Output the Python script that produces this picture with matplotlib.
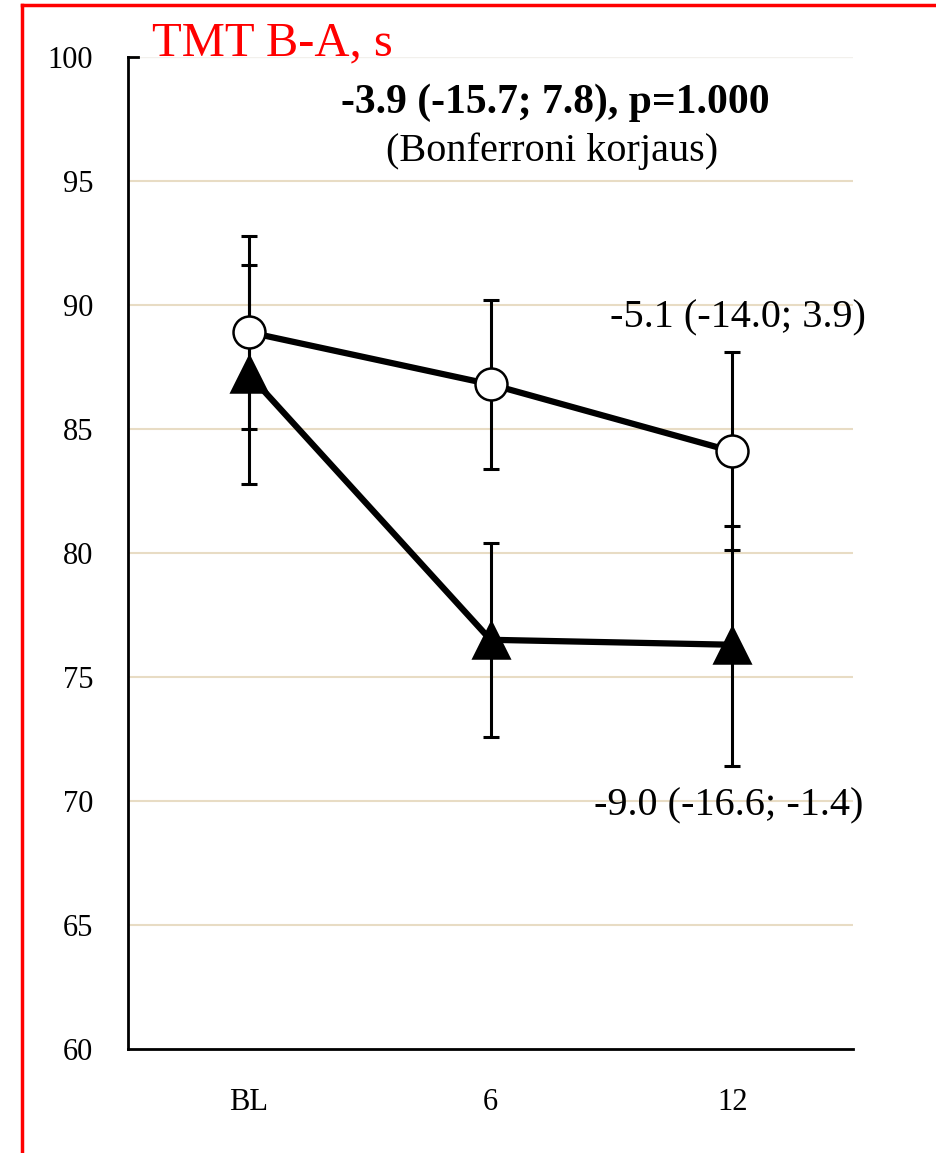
import matplotlib
matplotlib.use("Agg")
import matplotlib.pyplot as plt
from matplotlib.lines import Line2D

# TMT B-A means with 95% CI at baseline, 6 and 12 months
timepoints = ["BL", "6", "12"]
control_mean = [88.9, 86.8, 84.1]
control_low = [85.0, 83.4, 80.1]
control_high = [92.8, 90.2, 88.1]
interv_mean = [87.2, 76.5, 76.3]
interv_low = [82.8, 72.6, 71.4]
interv_high = [91.6, 80.4, 81.1]

yticks = [60, 65, 70, 75, 80, 85, 90, 95, 100]

plt.rcParams["font.family"] = ["Liberation Serif", "DejaVu Serif"]

fig = plt.figure(figsize=(9.36, 11.53), dpi=100)
ax = fig.add_axes([0.1368, 0.0902, 0.7745, 0.8604])

x = [i + 0.5 for i in range(len(timepoints))]


def draw_series(mean, low, high, marker, face, msize):
    err = [[m - lo for m, lo in zip(mean, low)], [hi - m for m, hi in zip(mean, high)]]
    ax.errorbar(x, mean, yerr=err, fmt="none", ecolor="black", elinewidth=2.2,
                capsize=6, capthick=2.2, zorder=3)
    ax.plot(x, mean, color="black", lw=4.5, zorder=4)
    ax.plot(x, mean, linestyle="none", marker=marker, markersize=msize,
            markerfacecolor=face, markeredgecolor="black", markeredgewidth=1.8, zorder=5)


draw_series(interv_mean, interv_low, interv_high, "^", "black", 26)
draw_series(control_mean, control_low, control_high, "o", "white", 23)

ax.set_xlim(0, 3)
ax.set_ylim(60, 100)
ax.set_xticks(x)
ax.set_xticklabels(timepoints)
ax.set_yticks(yticks)
ax.tick_params(axis="both", length=0, labelsize=22)
ax.tick_params(axis="x", pad=28)
ax.tick_params(axis="y", pad=25)

for y in yticks[1:-1]:
    ax.axhline(y, color="#E8DCC4", lw=1.5, zorder=1)
ax.axhline(100, color="#F2F0EC", lw=1.0, zorder=1)

for side in ["top", "right"]:
    ax.spines[side].set_visible(False)
for side in ["left", "bottom"]:
    ax.spines[side].set_linewidth(2.0)

# short tick at the top of the y axis
ax.add_line(Line2D([0, 0.04], [100, 100], color="black", lw=2.0, clip_on=False))

# annotations
fig.text(0.162, 0.962, "TMT B-A, s", color="red", fontsize=35, ha="left", va="center")
fig.text(0.593, 0.911, "-3.9 (-15.7; 7.8), p=1.000", fontsize=30, fontweight="bold",
         ha="center", va="center")
fig.text(0.590, 0.869, "(Bonferroni korjaus)", fontsize=29, ha="center", va="center")
fig.text(0.925, 0.724, "-5.1 (-14.0; 3.9)", fontsize=29, ha="right", va="center")
fig.text(0.922, 0.301, "-9.0 (-16.6; -1.4)", fontsize=29, ha="right", va="center")

# red frame along the left and top
fig.add_artist(Line2D([0.0235, 0.0235], [0.0, 0.9955], color="red", lw=2.5,
                      transform=fig.transFigure))
fig.add_artist(Line2D([0.0235, 1.0], [0.9955, 0.9955], color="red", lw=2.5,
                      transform=fig.transFigure))

fig.savefig("out.png", dpi=100)
